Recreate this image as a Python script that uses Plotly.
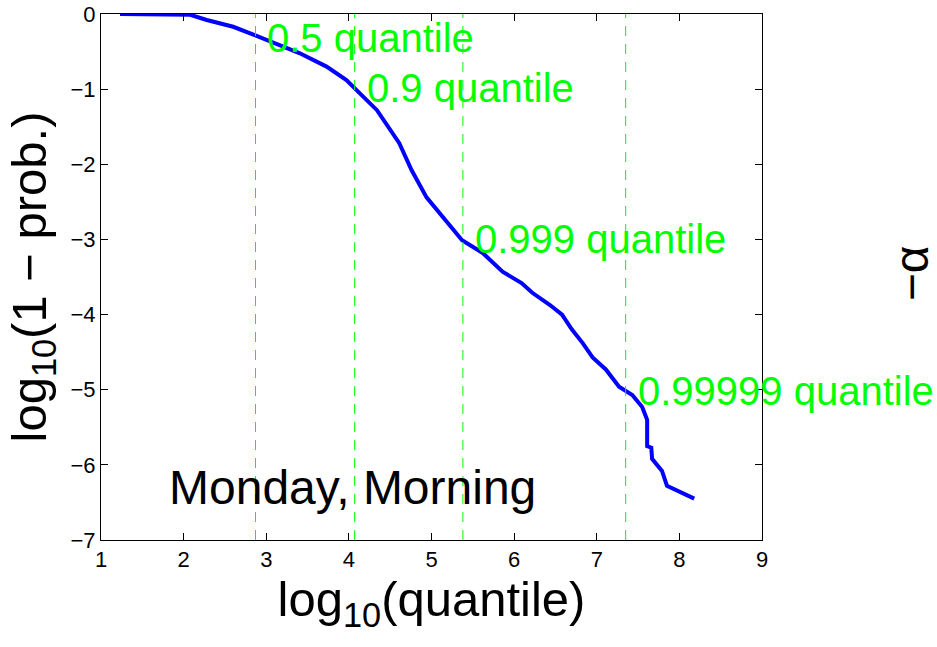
import plotly.graph_objects as go

# curve data: log10(quantile) vs log10(1 - prob.)
log_q = [1.23, 1.6, 2.0, 2.08, 2.28, 2.6, 2.86, 3.16, 3.40, 3.73, 3.97, 4.09, 4.34,
         4.61, 4.76, 4.94, 5.10, 5.22, 5.37, 5.62, 5.86, 6.09, 6.22, 6.43, 6.58, 6.70,
         6.83, 6.95, 7.11, 7.27, 7.43, 7.55, 7.61, 7.61, 7.66, 7.67, 7.79, 7.85, 8.18]
log_p = [0.0, 0.0, 0.0, -0.01, -0.08, -0.17, -0.28, -0.41, -0.52, -0.70, -0.88, -1.01, -1.28,
         -1.72, -2.08, -2.44, -2.65, -2.81, -3.01, -3.18, -3.43, -3.58, -3.71, -3.87, -4.00, -4.20,
         -4.38, -4.57, -4.73, -4.96, -5.07, -5.23, -5.40, -5.75, -5.77, -5.92, -6.08, -6.28, -6.45]

# quantile markers
quant_probs = [0.5, 0.9, 0.999, 0.99999]
quant_x = [2.87, 4.07, 5.38, 7.35]
quant_y = [-0.32, -0.98, -3.0, -5.02]
quant_labels = ["0.5 quantile", "0.9 quantile", "0.999 quantile", "0.99999 quantile"]

x_ticks = [1, 2, 3, 4, 5, 6, 7, 8, 9]
y_ticks = [0, -1, -2, -3, -4, -5, -6, -7]

FONT = "Liberation Sans, Arial, Helvetica, sans-serif"

fig = go.Figure()
fig.add_trace(go.Scatter(x=log_q, y=log_p, mode="lines",
                         line=dict(color="#0000ff", width=4), showlegend=False))

for qx in quant_x:
    fig.add_shape(type="line", xref="x", yref="paper", x0=qx, x1=qx, y0=0, y1=1,
                  line=dict(color="#00ff00", width=1, dash="10px,8px"))

for qx, qy, lab in zip(quant_x, quant_y, quant_labels):
    fig.add_annotation(x=qx + 0.12, y=qy, text=lab, showarrow=False, xanchor="left",
                       yanchor="middle", font=dict(family=FONT, size=40, color="#00ff00"))

fig.add_annotation(x=1.8, y=-6.30, text="Monday, Morning", showarrow=False, xanchor="left",
                   yanchor="middle", font=dict(family=FONT, size=48, color="black"))

fig.add_annotation(x=1.226, y=0.508, xref="paper", yref="paper", text="−α", textangle=-90,
                   xanchor="center", yanchor="middle",
                   showarrow=False, font=dict(family=FONT, size=48, color="black"))

axis_common = dict(showline=True, linecolor="black", linewidth=1, mirror="ticks",
                   ticks="inside", ticklen=7, tickcolor="black", showgrid=False, zeroline=False,
                   automargin=False,
                   tickfont=dict(family=FONT, size=22, color="black"))

fig.update_xaxes(range=[1, 9], tickvals=x_ticks, ticktext=[str(v) for v in x_ticks],
                 title=dict(text="log<sub>10</sub>(quantile)", font=dict(family=FONT, size=49, color="black"),
                            standoff=9),
                 **axis_common)
fig.update_yaxes(range=[-7, 0], tickvals=y_ticks, ticktext=[("−" + str(-v)) if v < 0 else str(v) for v in y_ticks],
                 title=dict(text="log<sub>10</sub>(1 − prob.)", font=dict(family=FONT, size=49, color="black"),
                            standoff=8),
                 **axis_common)

fig.update_layout(width=937, height=647, margin=dict(l=101, r=175, t=14, b=107, autoexpand=False),
                  plot_bgcolor="white", paper_bgcolor="white", font=dict(family=FONT))

# remove the default page margin so the figure fills the window exactly
fig.write_html("out.html", config={"displayModeBar": False},
               post_script="document.body.style.margin='0';")
